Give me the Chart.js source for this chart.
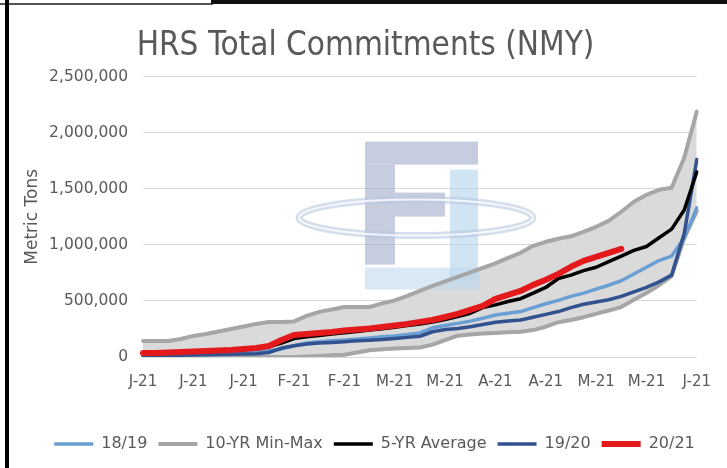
<!DOCTYPE html>
<html>
<head>
<meta charset="utf-8">
<script src="https://cdn.jsdelivr.net/npm/chart.js@4"></script>
<style>
  html, body { margin: 0; padding: 0; background: #fff; }
  body { width: 727px; height: 468px; position: relative; overflow: hidden; }
  #wrap { position: absolute; left: 0; top: 0; width: 727px; height: 468px; }
  .frame { position: absolute; pointer-events: none; }
</style>
</head>
<body>
<div id="wrap"><canvas id="c" width="727" height="468"></canvas></div>
<div class="frame" style="left:0;top:3px;width:213px;height:2px;background:#555;"></div>
<div class="frame" style="left:211px;top:0;width:516px;height:4px;background:#111;"></div>
<div class="frame" style="left:5px;top:0;width:4px;height:468px;background:#000;"></div>
<script>
// ---- data ----
const weeks = [1,2,3,4,5,6,7,8,9,10,11,12,13,14,15,16,17,18,19,20,21,22,23,24,25,26,27,28,29,30,31,32,33,34,35,36,37,38,39,40,41,42,43,44,45];
const tickLabels = ['J-21','J-21','J-21','F-21','F-21','M-21','M-21','A-21','A-21','M-21','M-21','J-21'];

const tenYrMax = [143000,143000,143000,161000,188000,205000,228000,250000,272000,295000,313000,313000,317000,366000,402000,424000,446000,446000,446000,478000,504000,545000,589000,634000,674000,714000,754000,795000,835000,884000,929000,991000,1027000,1054000,1076000,1116000,1161000,1214000,1295000,1384000,1446000,1491000,1509000,1777000,2188000];
const tenYrMin = [0,0,0,0,0,0,0,0,0,0,0,0,0,5000,10000,15000,20000,40000,60000,70000,75000,80000,85000,110000,150000,190000,200000,210000,215000,220000,225000,240000,270000,310000,330000,355000,385000,415000,445000,510000,570000,640000,720000,1060000,1300000];
const fiveYrAvg = [40000,40000,42000,45000,48000,52000,56000,60000,66000,75000,90000,125000,165000,180000,192000,205000,217000,228000,240000,252000,266000,280000,295000,312000,335000,360000,390000,440000,465000,495000,520000,570000,620000,700000,730000,770000,800000,850000,900000,950000,985000,1063000,1140000,1310000,1650000];
const y1819 = [20000,22000,25000,28000,30000,33000,36000,40000,44000,48000,55000,70000,100000,125000,136000,145000,152000,160000,170000,180000,188000,200000,215000,260000,280000,300000,320000,345000,375000,390000,405000,440000,475000,505000,540000,570000,605000,640000,680000,740000,800000,860000,900000,1060000,1330000];
const y1920 = [10000,12000,14000,16000,18000,20000,22000,24000,26000,30000,40000,80000,100000,115000,125000,130000,135000,145000,150000,155000,165000,175000,185000,225000,245000,255000,270000,290000,310000,320000,330000,355000,380000,405000,440000,470000,490000,510000,540000,580000,620000,670000,730000,1100000,1760000];
const y2021 = [36000,36000,40000,45000,49000,54000,58000,63000,71000,80000,98000,152000,196000,205000,214000,223000,237000,246000,254000,268000,281000,295000,313000,330000,357000,384000,420000,455000,518000,554000,589000,643000,688000,741000,804000,857000,893000,929000,964000,null,null,null,null,null,null];

const legendOrder = ['18/19','10-YR Min-Max','5-YR Average','19/20','20/21'];

const FONT = '"DejaVu Sans", sans-serif';
const TFONT = '"DejaVu Sans Condensed", "DejaVu Sans", sans-serif';
const TXT = '#595959';
const PAD_LEFT = 10;
const PLOT_LEFT = 143;

function lineDs(label, data, color, width) {
  return { label, data, borderColor: color, backgroundColor: color, borderWidth: width,
    pointRadius: 0, tension: 0, fill: false, borderCapStyle: 'round', borderJoinStyle: 'round', spanGaps: false };
}

const datasets = [
  lineDs('20/21', y2021, '#e3191c', 6),
  lineDs('5-YR Average', fiveYrAvg, '#000000', 3.5),
  lineDs('19/20', y1920, '#32518f', 3.5),
  lineDs('18/19', y1819, '#6a9fd3', 3.5),
  Object.assign(lineDs('10-YR Min-Max', tenYrMax, '#a6a6a6', 4), { fill: { target: '+1' }, backgroundColor: '#dadada' }),
  Object.assign(lineDs('', tenYrMin, '#a6a6a6', 4), { fill: false })
];

// faint company watermark behind the lines (decoration, not data)
const watermark = {
  id: 'watermark',
  beforeDatasetsDraw(chart) {
    const { ctx, chartArea: a } = chart;
    const L = a.left, T = a.top;
    ctx.save();
    ctx.fillStyle = 'rgba(160,172,202,0.6)';
    ctx.fillRect(L + 222, T + 65, 113, 23);
    ctx.fillRect(L + 222, T + 88, 30, 100);
    ctx.fillRect(L + 252, T + 116, 50, 24);
    ctx.fillStyle = 'rgba(178,210,234,0.6)';
    ctx.fillRect(L + 307, T + 93, 28, 112);
    ctx.fillStyle = 'rgba(190,218,238,0.6)';
    ctx.fillRect(L + 222, T + 191, 115, 22);
    ctx.beginPath();
    ctx.ellipse(L + 273, T + 141, 117, 18, 0, 0, Math.PI * 2);
    ctx.lineWidth = 7;
    ctx.strokeStyle = 'rgba(184,200,224,0.6)';
    ctx.stroke();
    ctx.lineWidth = 2;
    ctx.strokeStyle = 'rgba(255,255,255,0.8)';
    ctx.stroke();
    ctx.restore();
  }
};

const shifter = {
  id: 'shifter',
  afterLayout(chart) {
    if (chart.titleBlock) { chart.titleBlock.left += 12; chart.titleBlock.right += 12; }
    if (chart.legend) { chart.legend.left += 21; chart.legend.right += 21; }
  }
};

new Chart(document.getElementById('c'), {
  type: 'line',
  data: { labels: weeks, datasets },
  plugins: [watermark, shifter],
  options: {
    responsive: false,
    animation: false,
    layout: { padding: { left: PAD_LEFT, right: 30, top: 0, bottom: 6 } },
    plugins: {
      filler: { drawTime: 'beforeDatasetsDraw' },
      tooltip: { enabled: false },
      title: {
        display: true, text: 'HRS Total Commitments (NMY)', color: TXT,
        font: { family: TFONT, size: 33, weight: 'normal' },
        padding: { top: 27, bottom: 10 }
      },
      legend: {
        position: 'bottom',
        labels: {
          color: TXT, font: { family: FONT, size: 16 },
          usePointStyle: true, pointStyle: 'line', pointStyleWidth: 39, boxHeight: 16,
          padding: 11,
          filter: (item) => item.text !== '',
          sort: (a, b) => legendOrder.indexOf(a.text) - legendOrder.indexOf(b.text)
        }
      }
    },
    scales: {
      x: {
        type: 'category',
        offset: false,
        grid: { display: false, drawTicks: false },
        border: { display: false },
        ticks: {
          autoSkip: false, maxRotation: 0, minRotation: 0, padding: 16,
          color: TXT, font: { family: FONT, size: 15 },
          callback: (v, i) => (i % 4 === 0 ? tickLabels[i / 4] : null)
        },
        afterFit: (s) => { s.height = 68; }
      },
      y: {
        min: 0, max: 2500000,
        grid: { color: '#d9d9d9', lineWidth: 1, drawTicks: false },
        border: { display: false },
        ticks: {
          stepSize: 500000, padding: 15, color: TXT, font: { family: FONT, size: 15.5 },
          callback: (v) => v.toLocaleString('en-US')
        },
        title: {
          display: true, text: 'Metric Tons', color: TXT,
          font: { family: FONT, size: 17 }, padding: { top: 12, bottom: 0 }
        },
        afterFit: (s) => { s.width = PLOT_LEFT - PAD_LEFT; }
      }
    }
  }
});
</script>
</body>
</html>
